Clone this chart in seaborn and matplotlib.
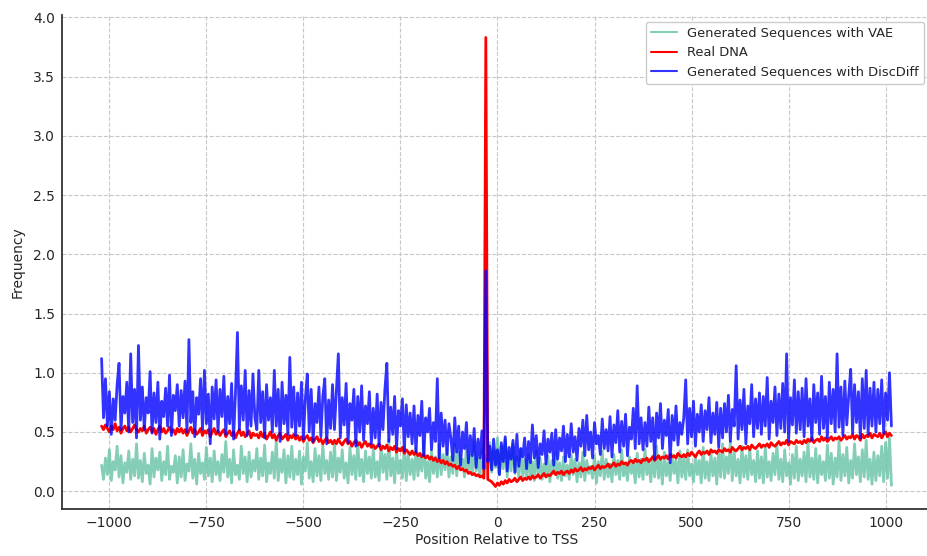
import numpy as np
import pandas as pd
import matplotlib
matplotlib.use("Agg")
import matplotlib.pyplot as plt
import seaborn as sns

# Positions relative to TSS (step 5)
positions = np.arange(-1020, 1016, 5)

vae_values = [
    0.22, 0.10, 0.28, 0.14, 0.35, 0.09, 0.25, 0.18, 0.38, 0.12, 0.30, 0.07, 0.24, 0.16, 0.34, 0.10, 0.27, 0.13, 0.40, 0.11,
    0.26, 0.08, 0.32, 0.15, 0.22, 0.06, 0.36, 0.12, 0.28, 0.18, 0.33, 0.09, 0.25, 0.14, 0.38, 0.10, 0.21, 0.16, 0.30, 0.07,
    0.29, 0.12, 0.35, 0.09, 0.23, 0.17, 0.40, 0.11, 0.27, 0.06, 0.32, 0.15, 0.24, 0.10, 0.37, 0.13, 0.28, 0.08, 0.34, 0.14,
    0.25, 0.09, 0.31, 0.16, 0.42, 0.12, 0.27, 0.07, 0.35, 0.14, 0.22, 0.10, 0.38, 0.15, 0.29, 0.08, 0.33, 0.12, 0.26, 0.17,
    0.36, 0.10, 0.28, 0.13, 0.39, 0.08, 0.24, 0.15, 0.33, 0.11, 0.43, 0.09, 0.27, 0.16, 0.35, 0.07, 0.30, 0.12, 0.38, 0.10,
    0.27, 0.14, 0.34, 0.06, 0.29, 0.17, 0.41, 0.11, 0.25, 0.08, 0.36, 0.13, 0.30, 0.09, 0.39, 0.15, 0.26, 0.10, 0.33, 0.12,
    0.40, 0.09, 0.28, 0.16, 0.35, 0.11, 0.24, 0.07, 0.37, 0.14, 0.30, 0.10, 0.42, 0.13, 0.27, 0.08, 0.34, 0.15, 0.29, 0.11,
    0.36, 0.12, 0.25, 0.09, 0.39, 0.16, 0.31, 0.10, 0.44, 0.13, 0.28, 0.07, 0.35, 0.15, 0.26, 0.11, 0.38, 0.09, 0.32, 0.14,
    0.27, 0.10, 0.37, 0.13, 0.30, 0.17, 0.42, 0.11, 0.25, 0.08, 0.34, 0.15, 0.29, 0.12, 0.39, 0.14, 0.31, 0.18, 0.36, 0.12,
    0.29, 0.15, 0.40, 0.13, 0.33, 0.18, 0.27, 0.12, 0.38, 0.16, 0.31, 0.14, 0.42, 0.17, 0.28, 0.13, 0.36, 0.15, 0.30, 0.18,
    0.41, 0.16, 0.35, 0.20, 0.45, 0.14, 0.38, 0.19, 0.44, 0.12, 0.33, 0.17, 0.40, 0.15, 0.29, 0.11, 0.36, 0.13, 0.27, 0.10,
    0.31, 0.12, 0.25, 0.09, 0.34, 0.14, 0.28, 0.10, 0.23, 0.13, 0.30, 0.08, 0.26, 0.15, 0.32, 0.11, 0.24, 0.09, 0.29, 0.13,
    0.22, 0.10, 0.31, 0.14, 0.27, 0.08, 0.24, 0.12, 0.33, 0.09, 0.26, 0.15, 0.21, 0.11, 0.30, 0.07, 0.25, 0.13, 0.34, 0.10,
    0.27, 0.12, 0.23, 0.08, 0.31, 0.14, 0.26, 0.10, 0.35, 0.13, 0.22, 0.09, 0.29, 0.15, 0.24, 0.07, 0.32, 0.12, 0.27, 0.10,
    0.36, 0.14, 0.25, 0.08, 0.30, 0.12, 0.38, 0.11, 0.27, 0.06, 0.33, 0.13, 0.24, 0.09, 0.31, 0.15, 0.26, 0.07, 0.34, 0.12,
    0.28, 0.10, 0.35, 0.13, 0.23, 0.08, 0.30, 0.14, 0.26, 0.07, 0.37, 0.11, 0.25, 0.09, 0.32, 0.13, 0.28, 0.06, 0.35, 0.12,
    0.40, 0.11, 0.29, 0.15, 0.42, 0.09, 0.33, 0.13, 0.27, 0.07, 0.38, 0.12, 0.30, 0.10, 0.36, 0.14, 0.26, 0.08, 0.34, 0.11,
    0.29, 0.07, 0.37, 0.12, 0.25, 0.09, 0.32, 0.14, 0.40, 0.10, 0.27, 0.08, 0.35, 0.13, 0.24, 0.06, 0.31, 0.11, 0.38, 0.09,
    0.27, 0.13, 0.33, 0.08, 0.41, 0.12, 0.28, 0.10, 0.36, 0.07, 0.30, 0.14, 0.25, 0.09, 0.39, 0.11, 0.32, 0.06, 0.28, 0.12,
    0.42, 0.09, 0.31, 0.13, 0.37, 0.07, 0.26, 0.11, 0.40, 0.14, 0.29, 0.08, 0.35, 0.12, 0.43, 0.10, 0.27, 0.06, 0.33, 0.09,
    0.30, 0.13, 0.38, 0.08, 0.41, 0.11, 0.45, 0.05,
]

real_values = [
    0.55, 0.52, 0.56, 0.53, 0.50, 0.55, 0.52, 0.57, 0.51, 0.54, 0.49, 0.53, 0.55, 0.51, 0.54, 0.50, 0.53, 0.56, 0.52, 0.50,
    0.53, 0.51, 0.55, 0.49, 0.52, 0.54, 0.50, 0.53, 0.48, 0.52, 0.55, 0.50, 0.53, 0.49, 0.51, 0.54, 0.50, 0.52, 0.48, 0.53,
    0.50, 0.53, 0.49, 0.52, 0.47, 0.51, 0.54, 0.49, 0.52, 0.48, 0.50, 0.53, 0.47, 0.51, 0.49, 0.52, 0.46, 0.50, 0.53, 0.48,
    0.51, 0.47, 0.50, 0.52, 0.46, 0.49, 0.51, 0.47, 0.50, 0.45, 0.49, 0.52, 0.47, 0.50, 0.46, 0.48, 0.51, 0.45, 0.49, 0.47,
    0.48, 0.45, 0.50, 0.46, 0.49, 0.44, 0.47, 0.50, 0.45, 0.48, 0.43, 0.47, 0.49, 0.44, 0.46, 0.48, 0.43, 0.47, 0.45, 0.48,
    0.44, 0.47, 0.43, 0.46, 0.42, 0.45, 0.47, 0.43, 0.45, 0.41, 0.44, 0.46, 0.42, 0.44, 0.40, 0.43, 0.45, 0.41, 0.43, 0.40,
    0.43, 0.40, 0.44, 0.41, 0.39, 0.42, 0.44, 0.40, 0.42, 0.38, 0.41, 0.43, 0.39, 0.41, 0.37, 0.40, 0.42, 0.38, 0.40, 0.37,
    0.39, 0.36, 0.38, 0.40, 0.35, 0.38, 0.36, 0.39, 0.34, 0.37, 0.35, 0.38, 0.33, 0.36, 0.34, 0.37, 0.32, 0.35, 0.33, 0.31,
    0.34, 0.31, 0.33, 0.30, 0.32, 0.29, 0.31, 0.28, 0.30, 0.27, 0.29, 0.26, 0.28, 0.25, 0.27, 0.24, 0.26, 0.23, 0.25, 0.22,
    0.23, 0.21, 0.22, 0.19, 0.21, 0.18, 0.19, 0.17, 0.18, 0.15, 0.16, 0.14, 0.15, 0.13, 0.14, 0.12, 0.13, 0.11, 3.83, 0.10,
    0.09, 0.08, 0.06, 0.04, 0.07, 0.05, 0.08, 0.06, 0.09, 0.07, 0.10, 0.08, 0.09, 0.11, 0.08, 0.10, 0.12, 0.09, 0.11, 0.10,
    0.12, 0.10, 0.13, 0.11, 0.12, 0.14, 0.11, 0.13, 0.15, 0.12, 0.14, 0.13, 0.15, 0.17, 0.14, 0.16, 0.15, 0.17, 0.14, 0.16,
    0.17, 0.15, 0.18, 0.16, 0.19, 0.17, 0.18, 0.20, 0.17, 0.19, 0.18, 0.20, 0.19, 0.21, 0.18, 0.20, 0.22, 0.19, 0.21, 0.20,
    0.21, 0.23, 0.20, 0.22, 0.24, 0.21, 0.23, 0.22, 0.25, 0.23, 0.24, 0.22, 0.25, 0.26, 0.24, 0.27, 0.25, 0.26, 0.24, 0.27,
    0.26, 0.28, 0.25, 0.27, 0.29, 0.26, 0.28, 0.30, 0.27, 0.29, 0.28, 0.30, 0.27, 0.31, 0.29, 0.30, 0.28, 0.32, 0.30, 0.29,
    0.31, 0.29, 0.32, 0.30, 0.33, 0.31, 0.29, 0.32, 0.34, 0.31, 0.33, 0.32, 0.34, 0.31, 0.35, 0.33, 0.34, 0.32, 0.35, 0.34,
    0.33, 0.36, 0.34, 0.35, 0.33, 0.37, 0.35, 0.34, 0.36, 0.38, 0.35, 0.37, 0.36, 0.38, 0.35, 0.39, 0.37, 0.36, 0.38, 0.40,
    0.37, 0.39, 0.38, 0.40, 0.37, 0.41, 0.39, 0.38, 0.40, 0.42, 0.39, 0.41, 0.40, 0.43, 0.39, 0.42, 0.41, 0.40, 0.43, 0.41,
    0.42, 0.40, 0.43, 0.41, 0.44, 0.42, 0.45, 0.41, 0.43, 0.44, 0.42, 0.46, 0.43, 0.45, 0.42, 0.44, 0.46, 0.43, 0.45, 0.44,
    0.46, 0.43, 0.45, 0.47, 0.44, 0.46, 0.45, 0.48, 0.44, 0.47, 0.46, 0.43, 0.48, 0.45, 0.47, 0.46, 0.49, 0.45, 0.48, 0.47,
    0.46, 0.49, 0.45, 0.48, 0.50, 0.46, 0.49, 0.47,
]

discdiff_values = [
    1.12, 0.62, 0.95, 0.55, 0.84, 0.48, 0.78, 0.60, 0.90, 1.08, 0.52, 0.80, 0.66, 0.92, 0.50, 1.16, 0.58, 0.86, 0.45, 1.23,
    0.60, 0.88, 0.52, 0.79, 0.66, 1.01, 0.49, 0.83, 0.58, 0.92, 0.44, 0.76, 0.63, 0.87, 0.55, 0.98, 0.47, 0.81, 0.68, 0.90,
    0.55, 0.85, 0.62, 0.93, 0.50, 1.28, 0.58, 0.84, 0.46, 0.79, 0.65, 0.95, 0.52, 1.02, 0.57, 0.82, 0.40, 0.88, 0.61, 0.94,
    0.50, 0.86, 0.63, 0.97, 0.48, 0.80, 0.57, 0.91, 0.44, 0.83, 1.34, 0.52, 0.89, 0.60, 1.02, 0.47, 0.85, 0.55, 0.99, 0.62,
    0.52, 1.02, 0.58, 0.84, 0.45, 0.90, 0.60, 0.79, 0.50, 1.02, 0.55, 0.86, 0.42, 0.92, 0.57, 0.81, 0.48, 1.13, 0.54, 0.88,
    0.47, 0.83, 0.55, 0.92, 0.44, 0.78, 0.99, 0.50, 0.86, 0.42, 0.74, 0.58, 0.88, 0.46, 0.80, 0.95, 0.40, 0.77, 0.53, 0.90,
    0.52, 0.85, 1.16, 0.45, 0.79, 0.56, 0.91, 0.41, 0.74, 0.60, 0.86, 0.38, 0.80, 0.50, 0.89, 0.43, 0.72, 0.57, 0.84, 0.40,
    0.70, 0.45, 0.82, 0.38, 0.75, 0.52, 0.86, 1.08, 0.42, 0.71, 0.48, 0.80, 0.36, 0.68, 0.55, 0.78, 0.34, 0.73, 0.46, 0.66,
    0.40, 0.72, 0.33, 0.64, 0.47, 0.76, 0.30, 0.62, 0.50, 0.70, 0.35, 0.58, 0.42, 0.95, 0.28, 0.66, 0.38, 0.60, 0.31, 0.57,
    0.45, 0.26, 0.62, 0.33, 0.55, 0.22, 0.50, 0.36, 0.58, 0.24, 0.47, 0.30, 0.53, 0.20, 0.44, 0.28, 0.51, 0.19, 1.86, 0.25,
    0.38, 0.18, 0.44, 0.22, 0.35, 0.14, 0.41, 0.25, 0.46, 0.17, 0.37, 0.27, 0.43, 0.16, 0.48, 0.21, 0.36, 0.29, 0.45, 0.19,
    0.42, 0.24, 0.56, 0.28, 0.47, 0.20, 0.40, 0.31, 0.51, 0.23, 0.44, 0.33, 0.49, 0.22, 0.52, 0.27, 0.45, 0.34, 0.55, 0.25,
    0.48, 0.29, 0.57, 0.33, 0.46, 0.26, 0.53, 0.38, 0.60, 0.30, 0.64, 0.35, 0.50, 0.28, 0.58, 0.40, 0.47, 0.31, 0.61, 0.36,
    0.52, 0.34, 0.63, 0.29, 0.56, 0.41, 0.68, 0.33, 0.59, 0.38, 0.65, 0.30, 0.54, 0.44, 0.70, 0.36, 0.89, 0.40, 0.62, 0.35,
    0.58, 0.38, 0.71, 0.42, 0.62, 0.27, 0.66, 0.45, 0.74, 0.36, 0.60, 0.47, 0.69, 0.24, 0.64, 0.43, 0.72, 0.39, 0.58, 0.48,
    0.62, 0.94, 0.40, 0.70, 0.46, 0.76, 0.38, 0.65, 0.50, 0.73, 0.42, 0.68, 0.52, 0.79, 0.41, 0.66, 0.48, 0.75, 0.37, 0.70,
    0.45, 0.74, 0.50, 0.81, 0.42, 0.69, 0.55, 1.06, 0.44, 0.77, 0.52, 0.86, 0.40, 0.72, 0.57, 0.90, 0.46, 0.78, 0.53, 0.83,
    0.48, 0.80, 0.55, 0.96, 0.44, 0.76, 0.58, 0.88, 0.47, 0.82, 0.53, 0.91, 0.50, 1.16, 0.42, 0.79, 0.56, 0.94, 0.49, 0.84,
    0.52, 0.87, 0.46, 0.95, 0.55, 0.78, 0.43, 0.90, 0.58, 0.83, 0.48, 0.97, 0.53, 0.80, 0.45, 0.92, 0.57, 0.86, 0.50, 1.16,
    0.54, 0.88, 0.47, 0.93, 0.56, 0.81, 1.03, 0.49, 0.90, 0.58, 0.84, 0.45, 0.95, 0.53, 1.02, 0.48, 0.87, 0.55, 0.92, 0.50,
    0.86, 0.57, 0.94, 0.49, 0.83, 0.60, 1.00, 0.55,
]

series_labels = ["Generated Sequences with VAE", "Real DNA", "Generated Sequences with DiscDiff"]
x_ticks = [-1000, -750, -500, -250, 0, 250, 500, 750, 1000]
y_ticks = [0.0, 0.5, 1.0, 1.5, 2.0, 2.5, 3.0, 3.5, 4.0]

assert len(vae_values) == len(positions) == len(real_values) == len(discdiff_values)

sns.set_style("white")
plt.rcParams["font.family"] = ["DejaVu Sans"]

fig = plt.figure(figsize=(9.28, 5.56), dpi=100)
ax = fig.add_axes([62 / 928, 47 / 556, 869 / 928, 494 / 556])

text_color = "#262626"
sns.lineplot(x=positions, y=vae_values, ax=ax, color="#66c2a5", alpha=0.8,
             linewidth=2.0, label=series_labels[0], estimator=None)
sns.lineplot(x=positions, y=real_values, ax=ax, color="red", alpha=1.0,
             linewidth=2.0, label=series_labels[1], estimator=None)
sns.lineplot(x=positions, y=discdiff_values, ax=ax, color="blue", alpha=0.8,
             linewidth=2.0, label=series_labels[2], estimator=None)

ax.set_xticks(x_ticks)
ax.set_yticks(y_ticks)
ax.set_xlim(-1122, 1117)
ax.set_ylim(-0.15, 4.02)
ax.set_xlabel("Position Relative to TSS", fontsize=10, color=text_color, labelpad=2)
ax.set_ylabel("Frequency", fontsize=10, color=text_color, labelpad=6)
ax.tick_params(axis="both", direction="in", length=4, width=1, labelsize=10,
               colors=text_color, pad=5)
ax.grid(True, linestyle="--", color="#c8c8c8", linewidth=0.8)
ax.set_axisbelow(True)
for s in ["top", "right"]:
    ax.spines[s].set_visible(False)
for s in ["left", "bottom"]:
    ax.spines[s].set_color("#333333")
    ax.spines[s].set_linewidth(1.3)

leg = ax.legend(loc="upper right", fontsize=9.4, frameon=True, framealpha=1.0,
                edgecolor="#cccccc", fancybox=True, borderpad=0.4,
                handlelength=2.0, labelspacing=0.5)
for t in leg.get_texts():
    t.set_color(text_color)
for line in leg.get_lines():
    line.set_linewidth(1.5)

fig.savefig("out.png", dpi=100)
